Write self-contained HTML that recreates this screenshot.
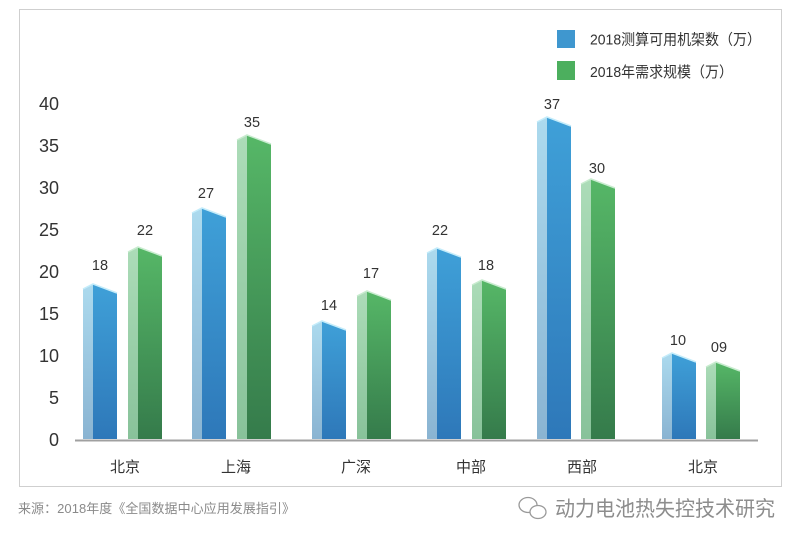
<!DOCTYPE html>
<html><head><meta charset="utf-8"><style>
html,body{margin:0;padding:0;background:#fff;}
svg{display:block;}
text{font-family:"Liberation Sans","Noto Sans CJK SC",sans-serif;}
</style></head><body>
<svg width="800" height="543" viewBox="0 0 800 543" xmlns="http://www.w3.org/2000/svg">
<defs>
<linearGradient id="bf" x1="0" y1="0" x2="0" y2="1"><stop offset="0" stop-color="#3fa0d8"/><stop offset="1" stop-color="#2e78b9"/></linearGradient>
<linearGradient id="bl" x1="0" y1="0" x2="0" y2="1"><stop offset="0" stop-color="#acdaee"/><stop offset="1" stop-color="#8ab4d2"/></linearGradient>
<linearGradient id="gf" x1="0" y1="0" x2="0" y2="1"><stop offset="0" stop-color="#56b767"/><stop offset="1" stop-color="#357b4b"/></linearGradient>
<linearGradient id="gl" x1="0" y1="0" x2="0" y2="1"><stop offset="0" stop-color="#acdcb8"/><stop offset="1" stop-color="#88c29a"/></linearGradient>
</defs>
<rect x="0" y="0" width="800" height="543" fill="#fff"/>
<rect x="19.5" y="9.5" width="762" height="477" fill="none" stroke="#cfcfcf" stroke-width="1"/>

<!-- y axis labels -->
<g font-size="18" fill="#333" text-anchor="end">
<text x="59" y="110">40</text>
<text x="59" y="152">35</text>
<text x="59" y="194">30</text>
<text x="59" y="236">25</text>
<text x="59" y="278">20</text>
<text x="59" y="320">15</text>
<text x="59" y="362">10</text>
<text x="59" y="404">5</text>
<text x="59" y="446">0</text>
</g>

<!-- bars -->
<g id="bars">
<polygon points="83,289 93,284 93,439 83,439" fill="url(#bl)"/>
<polygon points="93,284 117,293 117,439 93,439" fill="url(#bf)"/>
<polyline points="83,289 93,284 117,293" fill="none" stroke="#c4ecfa" stroke-width="1.5"/>
<polygon points="128,252 138,247 138,439 128,439" fill="url(#gl)"/>
<polygon points="138,247 162,256 162,439 138,439" fill="url(#gf)"/>
<polyline points="128,252 138,247 162,256" fill="none" stroke="#c8eccf" stroke-width="1.5"/>
<polygon points="192,213 202,208 202,439 192,439" fill="url(#bl)"/>
<polygon points="202,208 226,217 226,439 202,439" fill="url(#bf)"/>
<polyline points="192,213 202,208 226,217" fill="none" stroke="#c4ecfa" stroke-width="1.5"/>
<polygon points="237,140 247,135 247,439 237,439" fill="url(#gl)"/>
<polygon points="247,135 271,144 271,439 247,439" fill="url(#gf)"/>
<polyline points="237,140 247,135 271,144" fill="none" stroke="#c8eccf" stroke-width="1.5"/>
<polygon points="312,326 322,321 322,439 312,439" fill="url(#bl)"/>
<polygon points="322,321 346,330 346,439 322,439" fill="url(#bf)"/>
<polyline points="312,326 322,321 346,330" fill="none" stroke="#c4ecfa" stroke-width="1.5"/>
<polygon points="357,296 367,291 367,439 357,439" fill="url(#gl)"/>
<polygon points="367,291 391,300 391,439 367,439" fill="url(#gf)"/>
<polyline points="357,296 367,291 391,300" fill="none" stroke="#c8eccf" stroke-width="1.5"/>
<polygon points="427,253 437,248 437,439 427,439" fill="url(#bl)"/>
<polygon points="437,248 461,257 461,439 437,439" fill="url(#bf)"/>
<polyline points="427,253 437,248 461,257" fill="none" stroke="#c4ecfa" stroke-width="1.5"/>
<polygon points="472,285 482,280 482,439 472,439" fill="url(#gl)"/>
<polygon points="482,280 506,289 506,439 482,439" fill="url(#gf)"/>
<polyline points="472,285 482,280 506,289" fill="none" stroke="#c8eccf" stroke-width="1.5"/>
<polygon points="537,122 547,117 547,439 537,439" fill="url(#bl)"/>
<polygon points="547,117 571,126 571,439 547,439" fill="url(#bf)"/>
<polyline points="537,122 547,117 571,126" fill="none" stroke="#c4ecfa" stroke-width="1.5"/>
<polygon points="581,184 591,179 591,439 581,439" fill="url(#gl)"/>
<polygon points="591,179 615,188 615,439 591,439" fill="url(#gf)"/>
<polyline points="581,184 591,179 615,188" fill="none" stroke="#c8eccf" stroke-width="1.5"/>
<polygon points="662,358 672,353 672,439 662,439" fill="url(#bl)"/>
<polygon points="672,353 696,362 696,439 672,439" fill="url(#bf)"/>
<polyline points="662,358 672,353 696,362" fill="none" stroke="#c4ecfa" stroke-width="1.5"/>
<polygon points="706,367 716,362 716,439 706,439" fill="url(#gl)"/>
<polygon points="716,362 740,371 740,439 716,439" fill="url(#gf)"/>
<polyline points="706,367 716,362 740,371" fill="none" stroke="#c8eccf" stroke-width="1.5"/>
</g>

<!-- x axis -->
<line x1="75" y1="440.5" x2="758" y2="440.5" stroke="#a0a0a0" stroke-width="2"/>

<!-- value labels -->
<g font-size="14.5" fill="#333" text-anchor="middle">
<text x="100" y="270">18</text>
<text x="145" y="235">22</text>
<text x="206" y="198">27</text>
<text x="252" y="127">35</text>
<text x="329" y="310">14</text>
<text x="371" y="278">17</text>
<text x="440" y="235">22</text>
<text x="486" y="270">18</text>
<text x="552" y="109">37</text>
<text x="597" y="173">30</text>
<text x="678" y="345">10</text>
<text x="719" y="352">09</text>
</g>

<!-- category labels -->
<g font-size="15" fill="#333" text-anchor="middle">
<text x="125" y="472">北京</text>
<text x="236" y="472">上海</text>
<text x="356" y="472">广深</text>
<text x="471" y="472">中部</text>
<text x="582" y="472">西部</text>
<text x="703" y="472">北京</text>
</g>

<!-- legend -->
<rect x="557" y="30" width="18" height="18" fill="#3f97cf"/>
<rect x="557" y="61" width="18" height="19" fill="#4caf5e"/>
<g font-size="15" fill="#333">
<text x="590" y="44.5" textLength="171" lengthAdjust="spacingAndGlyphs">2018测算可用机架数（万）</text>
<text x="590" y="77" textLength="143" lengthAdjust="spacingAndGlyphs">2018年需求规模（万）</text>
</g>

<!-- source -->
<text x="18" y="513" font-size="13" fill="#8a8a8a" textLength="277" lengthAdjust="spacing">来源：2018年度《全国数据中心应用发展指引》</text>

<!-- watermark -->
<g fill="none" stroke="#9a9a9a" stroke-width="1.3">
<ellipse cx="528" cy="505" rx="9" ry="7.5"/>
<ellipse cx="538" cy="512" rx="8" ry="6.5" fill="#fff"/>
</g>
<text x="555" y="516" font-size="21" fill="#8d8d8d" textLength="220" lengthAdjust="spacingAndGlyphs">动力电池热失控技术研究</text>
</svg>
</body></html>
